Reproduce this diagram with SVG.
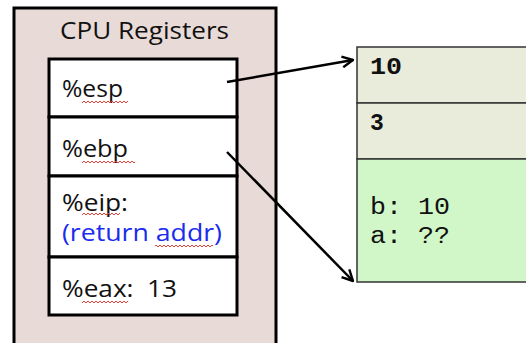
<svg xmlns="http://www.w3.org/2000/svg" width="526" height="343" viewBox="0 0 526 343">
  <style>
    .box { stroke: #000; stroke-width: 3; }
    .reg { fill: #fff; stroke: #000; stroke-width: 3; }
    .sans { font-family: "Open Sans", "Liberation Sans", sans-serif; font-size: 23px; fill: #111; }
    .blue { fill: #1a2cf0; }
    .mono { font-family: "Liberation Mono", "DejaVu Sans Mono", monospace; font-size: 23px; fill: #111; }
    .bold { font-weight: bold; }
    .cell { stroke: #333; stroke-width: 1.5; }
    .wire { fill: none; stroke: #000; stroke-width: 2.5; }
  </style>
  <defs>
    <marker id="head" viewBox="0 0 12 12" refX="11" refY="6" markerWidth="13" markerHeight="13" markerUnits="userSpaceOnUse" orient="auto">
      <path d="M1,1 L11,6 L1,11" fill="none" stroke="#000" stroke-width="2.2"/>
    </marker>
    <pattern id="wave" width="4" height="4" patternUnits="userSpaceOnUse">
      <path d="M0,1 L2,3 L4,1" fill="none" stroke="#e8413a" stroke-width="1"/>
    </pattern>
  </defs>

  <rect width="526" height="343" fill="#fff"/>

  <!-- register file -->
  <g id="cpu-registers">
    <rect class="box" x="14" y="8" width="262" height="345" fill="#e8dad6"/>
    <text class="sans" x="60" y="39" textLength="169" lengthAdjust="spacingAndGlyphs">CPU Registers</text>
  </g>

  <g id="reg-esp">
    <rect class="reg" x="49" y="59" width="188" height="58"/>
    <text class="sans" x="62" y="97" textLength="61" lengthAdjust="spacingAndGlyphs">%esp</text>
    <rect x="82" y="100" width="46" height="4" fill="url(#wave)"/>
  </g>
  <g id="reg-ebp">
    <rect class="reg" x="49" y="117" width="188" height="59"/>
    <text class="sans" x="62" y="157" textLength="66" lengthAdjust="spacingAndGlyphs">%ebp</text>
    <rect x="82" y="159" width="53" height="4" fill="url(#wave)"/>
  </g>
  <g id="reg-eip">
    <rect class="reg" x="49" y="176" width="188" height="81"/>
    <text class="sans" x="62" y="211" textLength="66" lengthAdjust="spacingAndGlyphs">%eip:</text>
    <rect x="82" y="212" width="38" height="4" fill="url(#wave)"/>
    <text class="sans blue" x="62" y="241" textLength="160" lengthAdjust="spacingAndGlyphs">(return addr)</text>
    <rect x="155" y="244" width="58" height="4" fill="url(#wave)"/>
  </g>
  <g id="reg-eax">
    <rect class="reg" x="49" y="257" width="188" height="58"/>
    <text class="sans" x="62" y="297" textLength="115" lengthAdjust="spacingAndGlyphs" xml:space="preserve">%eax:  13</text>
    <rect x="82" y="299" width="46" height="4" fill="url(#wave)"/>
  </g>

  <!-- stack memory -->
  <g id="stack-10">
    <rect class="cell" x="357" y="47" width="175" height="56" fill="#e9ecda"/>
    <text class="mono bold" x="370" y="74" textLength="32" lengthAdjust="spacingAndGlyphs">10</text>
  </g>
  <g id="stack-3">
    <rect class="cell" x="357" y="103" width="175" height="56" fill="#e9ecda"/>
    <text class="mono bold" x="370" y="130">3</text>
  </g>
  <g id="stack-frame">
    <rect class="cell" x="357" y="159" width="175" height="123" fill="#d1f7c9"/>
    <text class="mono" x="370" y="214" textLength="80" lengthAdjust="spacingAndGlyphs" xml:space="preserve">b: 10</text>
    <text class="mono" x="370" y="243" textLength="80" lengthAdjust="spacingAndGlyphs" xml:space="preserve">a: ??</text>
  </g>

  <!-- pointer arrows -->
  <g id="connectors">
    <line class="wire" x1="227" y1="82" x2="353" y2="60" marker-end="url(#head)"/>
    <line class="wire" x1="227" y1="152" x2="353" y2="281" marker-end="url(#head)"/>
  </g>
</svg>
